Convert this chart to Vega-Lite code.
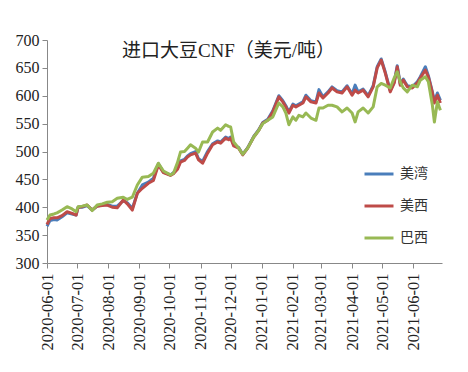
{
 "$schema": "https://vega.github.io/schema/vega-lite/v6.json",
 "width": 395, "height": 223,
 "autosize": {"type": "none"},
 "padding": {"left": 47, "top": 40, "right": 26, "bottom": 109},
 "background": "white",
 "title": {"text": "进口大豆CNF（美元/吨）", "anchor": "middle", "frame": "group", "offset": -29, "dx": -16, "font": "Liberation Serif, Noto Sans CJK SC", "fontSize": 19, "fontWeight": "normal", "color": "#222"},
 "datasets": {"t": [
 {"d":"2020-06-01","s":"美湾","v":366},{"d":"2020-06-04","s":"美湾","v":376},{"d":"2020-06-08","s":"美湾","v":378},{"d":"2020-06-11","s":"美湾","v":377},{"d":"2020-06-16","s":"美湾","v":383},{"d":"2020-06-21","s":"美湾","v":390},{"d":"2020-06-26","s":"美湾","v":388},{"d":"2020-06-30","s":"美湾","v":386},{"d":"2020-07-02","s":"美湾","v":400},{"d":"2020-07-06","s":"美湾","v":400},{"d":"2020-07-11","s":"美湾","v":403},{"d":"2020-07-16","s":"美湾","v":395},{"d":"2020-07-21","s":"美湾","v":402},{"d":"2020-07-26","s":"美湾","v":404},{"d":"2020-07-31","s":"美湾","v":405},{"d":"2020-08-05","s":"美湾","v":402},{"d":"2020-08-10","s":"美湾","v":402},{"d":"2020-08-16","s":"美湾","v":412},{"d":"2020-08-20","s":"美湾","v":408},{"d":"2020-08-25","s":"美湾","v":398},{"d":"2020-08-30","s":"美湾","v":425},{"d":"2020-09-04","s":"美湾","v":440},{"d":"2020-09-10","s":"美湾","v":445},{"d":"2020-09-15","s":"美湾","v":452},{"d":"2020-09-20","s":"美湾","v":478},{"d":"2020-09-25","s":"美湾","v":463},{"d":"2020-10-02","s":"美湾","v":458},{"d":"2020-10-05","s":"美湾","v":462},{"d":"2020-10-09","s":"美湾","v":470},{"d":"2020-10-12","s":"美湾","v":483},{"d":"2020-10-16","s":"美湾","v":486},{"d":"2020-10-19","s":"美湾","v":492},{"d":"2020-10-22","s":"美湾","v":496},{"d":"2020-10-27","s":"美湾","v":500},{"d":"2020-10-30","s":"美湾","v":487},{"d":"2020-11-03","s":"美湾","v":482},{"d":"2020-11-08","s":"美湾","v":500},{"d":"2020-11-13","s":"美湾","v":514},{"d":"2020-11-18","s":"美湾","v":519},{"d":"2020-11-21","s":"美湾","v":517},{"d":"2020-11-26","s":"美湾","v":526},{"d":"2020-11-29","s":"美湾","v":523},{"d":"2020-12-01","s":"美湾","v":526},{"d":"2020-12-04","s":"美湾","v":512},{"d":"2020-12-09","s":"美湾","v":507},{"d":"2020-12-13","s":"美湾","v":495},{"d":"2020-12-18","s":"美湾","v":507},{"d":"2020-12-24","s":"美湾","v":527},{"d":"2020-12-29","s":"美湾","v":539},{"d":"2021-01-02","s":"美湾","v":552},{"d":"2021-01-07","s":"美湾","v":558},{"d":"2021-01-12","s":"美湾","v":573},{"d":"2021-01-18","s":"美湾","v":600},{"d":"2021-01-22","s":"美湾","v":591},{"d":"2021-01-25","s":"美湾","v":582},{"d":"2021-01-28","s":"美湾","v":571},{"d":"2021-02-01","s":"美湾","v":585},{"d":"2021-02-04","s":"美湾","v":582},{"d":"2021-02-07","s":"美湾","v":585},{"d":"2021-02-11","s":"美湾","v":589},{"d":"2021-02-14","s":"美湾","v":601},{"d":"2021-02-19","s":"美湾","v":591},{"d":"2021-02-24","s":"美湾","v":589},{"d":"2021-02-27","s":"美湾","v":611},{"d":"2021-03-03","s":"美湾","v":598},{"d":"2021-03-08","s":"美湾","v":607},{"d":"2021-03-12","s":"美湾","v":616},{"d":"2021-03-17","s":"美湾","v":609},{"d":"2021-03-22","s":"美湾","v":607},{"d":"2021-03-27","s":"美湾","v":618},{"d":"2021-04-01","s":"美湾","v":603},{"d":"2021-04-04","s":"美湾","v":619},{"d":"2021-04-07","s":"美湾","v":607},{"d":"2021-04-12","s":"美湾","v":612},{"d":"2021-04-17","s":"美湾","v":600},{"d":"2021-04-22","s":"美湾","v":618},{"d":"2021-04-26","s":"美湾","v":652},{"d":"2021-04-30","s":"美湾","v":666},{"d":"2021-05-04","s":"美湾","v":643},{"d":"2021-05-09","s":"美湾","v":609},{"d":"2021-05-13","s":"美湾","v":625},{"d":"2021-05-16","s":"美湾","v":654},{"d":"2021-05-19","s":"美湾","v":621},{"d":"2021-05-22","s":"美湾","v":630},{"d":"2021-05-26","s":"美湾","v":618},{"d":"2021-05-31","s":"美湾","v":616},{"d":"2021-06-05","s":"美湾","v":625},{"d":"2021-06-08","s":"美湾","v":634},{"d":"2021-06-13","s":"美湾","v":652},{"d":"2021-06-16","s":"美湾","v":636},{"d":"2021-06-20","s":"美湾","v":607},{"d":"2021-06-22","s":"美湾","v":590},{"d":"2021-06-25","s":"美湾","v":605},{"d":"2021-06-28","s":"美湾","v":592},
 {"d":"2020-06-01","s":"美西","v":369},{"d":"2020-06-04","s":"美西","v":380},{"d":"2020-06-08","s":"美西","v":381},{"d":"2020-06-11","s":"美西","v":381},{"d":"2020-06-16","s":"美西","v":385},{"d":"2020-06-21","s":"美西","v":392},{"d":"2020-06-26","s":"美西","v":389},{"d":"2020-06-30","s":"美西","v":386},{"d":"2020-07-02","s":"美西","v":400},{"d":"2020-07-06","s":"美西","v":401},{"d":"2020-07-11","s":"美西","v":404},{"d":"2020-07-16","s":"美西","v":395},{"d":"2020-07-21","s":"美西","v":402},{"d":"2020-07-26","s":"美西","v":403},{"d":"2020-07-31","s":"美西","v":404},{"d":"2020-08-05","s":"美西","v":400},{"d":"2020-08-10","s":"美西","v":399},{"d":"2020-08-16","s":"美西","v":413},{"d":"2020-08-20","s":"美西","v":406},{"d":"2020-08-25","s":"美西","v":395},{"d":"2020-08-30","s":"美西","v":425},{"d":"2020-09-04","s":"美西","v":434},{"d":"2020-09-10","s":"美西","v":443},{"d":"2020-09-15","s":"美西","v":448},{"d":"2020-09-20","s":"美西","v":476},{"d":"2020-09-25","s":"美西","v":462},{"d":"2020-10-02","s":"美西","v":457},{"d":"2020-10-05","s":"美西","v":460},{"d":"2020-10-09","s":"美西","v":468},{"d":"2020-10-12","s":"美西","v":481},{"d":"2020-10-16","s":"美西","v":484},{"d":"2020-10-19","s":"美西","v":490},{"d":"2020-10-22","s":"美西","v":494},{"d":"2020-10-27","s":"美西","v":497},{"d":"2020-10-30","s":"美西","v":485},{"d":"2020-11-03","s":"美西","v":479},{"d":"2020-11-08","s":"美西","v":497},{"d":"2020-11-13","s":"美西","v":512},{"d":"2020-11-18","s":"美西","v":517},{"d":"2020-11-21","s":"美西","v":515},{"d":"2020-11-26","s":"美西","v":524},{"d":"2020-11-29","s":"美西","v":521},{"d":"2020-12-01","s":"美西","v":524},{"d":"2020-12-04","s":"美西","v":510},{"d":"2020-12-09","s":"美西","v":506},{"d":"2020-12-13","s":"美西","v":494},{"d":"2020-12-18","s":"美西","v":506},{"d":"2020-12-24","s":"美西","v":526},{"d":"2020-12-29","s":"美西","v":538},{"d":"2021-01-02","s":"美西","v":551},{"d":"2021-01-07","s":"美西","v":556},{"d":"2021-01-12","s":"美西","v":571},{"d":"2021-01-18","s":"美西","v":598},{"d":"2021-01-22","s":"美西","v":589},{"d":"2021-01-25","s":"美西","v":580},{"d":"2021-01-28","s":"美西","v":569},{"d":"2021-02-01","s":"美西","v":583},{"d":"2021-02-04","s":"美西","v":580},{"d":"2021-02-07","s":"美西","v":583},{"d":"2021-02-11","s":"美西","v":587},{"d":"2021-02-14","s":"美西","v":598},{"d":"2021-02-19","s":"美西","v":589},{"d":"2021-02-24","s":"美西","v":587},{"d":"2021-02-27","s":"美西","v":605},{"d":"2021-03-03","s":"美西","v":596},{"d":"2021-03-08","s":"美西","v":605},{"d":"2021-03-12","s":"美西","v":614},{"d":"2021-03-17","s":"美西","v":607},{"d":"2021-03-22","s":"美西","v":605},{"d":"2021-03-27","s":"美西","v":616},{"d":"2021-04-01","s":"美西","v":601},{"d":"2021-04-04","s":"美西","v":610},{"d":"2021-04-07","s":"美西","v":605},{"d":"2021-04-12","s":"美西","v":610},{"d":"2021-04-17","s":"美西","v":598},{"d":"2021-04-22","s":"美西","v":616},{"d":"2021-04-26","s":"美西","v":650},{"d":"2021-04-30","s":"美西","v":664},{"d":"2021-05-04","s":"美西","v":641},{"d":"2021-05-09","s":"美西","v":607},{"d":"2021-05-13","s":"美西","v":623},{"d":"2021-05-16","s":"美西","v":652},{"d":"2021-05-19","s":"美西","v":619},{"d":"2021-05-22","s":"美西","v":628},{"d":"2021-05-26","s":"美西","v":616},{"d":"2021-05-31","s":"美西","v":614},{"d":"2021-06-05","s":"美西","v":623},{"d":"2021-06-08","s":"美西","v":632},{"d":"2021-06-13","s":"美西","v":646},{"d":"2021-06-16","s":"美西","v":634},{"d":"2021-06-20","s":"美西","v":605},{"d":"2021-06-22","s":"美西","v":587},{"d":"2021-06-25","s":"美西","v":601},{"d":"2021-06-28","s":"美西","v":587},
 {"d":"2020-06-01","s":"巴西","v":377},{"d":"2020-06-04","s":"巴西","v":386},{"d":"2020-06-08","s":"巴西","v":388},{"d":"2020-06-11","s":"巴西","v":390},{"d":"2020-06-16","s":"巴西","v":395},{"d":"2020-06-21","s":"巴西","v":401},{"d":"2020-06-26","s":"巴西","v":397},{"d":"2020-06-30","s":"巴西","v":392},{"d":"2020-07-02","s":"巴西","v":401},{"d":"2020-07-06","s":"巴西","v":402},{"d":"2020-07-11","s":"巴西","v":404},{"d":"2020-07-16","s":"巴西","v":394},{"d":"2020-07-21","s":"巴西","v":404},{"d":"2020-07-26","s":"巴西","v":406},{"d":"2020-07-31","s":"巴西","v":409},{"d":"2020-08-05","s":"巴西","v":410},{"d":"2020-08-10","s":"巴西","v":416},{"d":"2020-08-16","s":"巴西","v":418},{"d":"2020-08-20","s":"巴西","v":414},{"d":"2020-08-25","s":"巴西","v":418},{"d":"2020-08-30","s":"巴西","v":440},{"d":"2020-09-04","s":"巴西","v":454},{"d":"2020-09-10","s":"巴西","v":455},{"d":"2020-09-15","s":"巴西","v":461},{"d":"2020-09-20","s":"巴西","v":479},{"d":"2020-09-25","s":"巴西","v":465},{"d":"2020-10-02","s":"巴西","v":458},{"d":"2020-10-05","s":"巴西","v":461},{"d":"2020-10-09","s":"巴西","v":480},{"d":"2020-10-12","s":"巴西","v":499},{"d":"2020-10-16","s":"巴西","v":500},{"d":"2020-10-19","s":"巴西","v":506},{"d":"2020-10-22","s":"巴西","v":512},{"d":"2020-10-27","s":"巴西","v":506},{"d":"2020-10-30","s":"巴西","v":499},{"d":"2020-11-03","s":"巴西","v":517},{"d":"2020-11-08","s":"巴西","v":517},{"d":"2020-11-13","s":"巴西","v":535},{"d":"2020-11-18","s":"巴西","v":542},{"d":"2020-11-21","s":"巴西","v":538},{"d":"2020-11-26","s":"巴西","v":548},{"d":"2020-11-29","s":"巴西","v":545},{"d":"2020-12-01","s":"巴西","v":544},{"d":"2020-12-04","s":"巴西","v":517},{"d":"2020-12-09","s":"巴西","v":506},{"d":"2020-12-13","s":"巴西","v":495},{"d":"2020-12-18","s":"巴西","v":506},{"d":"2020-12-24","s":"巴西","v":526},{"d":"2020-12-29","s":"巴西","v":538},{"d":"2021-01-02","s":"巴西","v":550},{"d":"2021-01-07","s":"巴西","v":556},{"d":"2021-01-12","s":"巴西","v":562},{"d":"2021-01-18","s":"巴西","v":587},{"d":"2021-01-22","s":"巴西","v":580},{"d":"2021-01-25","s":"巴西","v":569},{"d":"2021-01-28","s":"巴西","v":548},{"d":"2021-02-01","s":"巴西","v":562},{"d":"2021-02-04","s":"巴西","v":556},{"d":"2021-02-07","s":"巴西","v":565},{"d":"2021-02-11","s":"巴西","v":562},{"d":"2021-02-14","s":"巴西","v":569},{"d":"2021-02-19","s":"巴西","v":560},{"d":"2021-02-24","s":"巴西","v":556},{"d":"2021-02-27","s":"巴西","v":578},{"d":"2021-03-03","s":"巴西","v":578},{"d":"2021-03-08","s":"巴西","v":583},{"d":"2021-03-12","s":"巴西","v":583},{"d":"2021-03-17","s":"巴西","v":580},{"d":"2021-03-22","s":"巴西","v":571},{"d":"2021-03-27","s":"巴西","v":578},{"d":"2021-04-01","s":"巴西","v":569},{"d":"2021-04-04","s":"巴西","v":553},{"d":"2021-04-07","s":"巴西","v":571},{"d":"2021-04-12","s":"巴西","v":578},{"d":"2021-04-17","s":"巴西","v":569},{"d":"2021-04-22","s":"巴西","v":580},{"d":"2021-04-26","s":"巴西","v":616},{"d":"2021-04-30","s":"巴西","v":622},{"d":"2021-05-04","s":"巴西","v":619},{"d":"2021-05-09","s":"巴西","v":614},{"d":"2021-05-13","s":"巴西","v":632},{"d":"2021-05-16","s":"巴西","v":643},{"d":"2021-05-19","s":"巴西","v":625},{"d":"2021-05-22","s":"巴西","v":614},{"d":"2021-05-26","s":"巴西","v":607},{"d":"2021-05-31","s":"巴西","v":619},{"d":"2021-06-05","s":"巴西","v":616},{"d":"2021-06-08","s":"巴西","v":628},{"d":"2021-06-13","s":"巴西","v":634},{"d":"2021-06-16","s":"巴西","v":625},{"d":"2021-06-20","s":"巴西","v":583},{"d":"2021-06-22","s":"巴西","v":553},{"d":"2021-06-25","s":"巴西","v":589},{"d":"2021-06-28","s":"巴西","v":574}
 ]},
 "data": {"name": "t"},
 "mark": {"type": "line", "strokeWidth": 3, "strokeJoin": "round"},
 "encoding": {
  "x": {"field": "d", "type": "temporal",
   "scale": {"type": "utc", "domain": [{"year": 2020, "month": 6, "date": 1, "utc": true}, {"year": 2021, "month": 6, "date": 29, "hours": 14, "utc": true}]},
   "axis": {"title": null, "grid": false, "labelExpr": "utcFormat(datum.value, '%Y-%m-%d')", "labelAngle": -90, "labelFont": "Liberation Serif", "labelFontSize": 16.5, "labelColor": "#222", "labelPadding": 5, "tickSize": 5, "tickColor": "#888", "domainColor": "#888",
    "values": [{"year":2020,"month":6,"date":1,"utc":true},{"year":2020,"month":7,"date":1,"utc":true},{"year":2020,"month":8,"date":1,"utc":true},{"year":2020,"month":9,"date":1,"utc":true},{"year":2020,"month":10,"date":1,"utc":true},{"year":2020,"month":11,"date":1,"utc":true},{"year":2020,"month":12,"date":1,"utc":true},{"year":2021,"month":1,"date":1,"utc":true},{"year":2021,"month":2,"date":1,"utc":true},{"year":2021,"month":3,"date":1,"utc":true},{"year":2021,"month":4,"date":1,"utc":true},{"year":2021,"month":5,"date":1,"utc":true},{"year":2021,"month":6,"date":1,"utc":true}]}},
  "y": {"field": "v", "type": "quantitative",
   "scale": {"domain": [300, 700], "nice": false, "zero": false},
   "axis": {"title": null, "grid": false, "values": [300, 350, 400, 450, 500, 550, 600, 650, 700], "labelFont": "Liberation Serif", "labelFontSize": 16, "labelColor": "#222", "labelPadding": 3, "tickSize": 5, "tickColor": "#888", "domainColor": "#888"}},
  "color": {"field": "s", "type": "nominal",
   "scale": {"domain": ["美湾", "美西", "巴西"], "range": ["#4a7ebb", "#be4b48", "#98b954"]},
   "legend": {"title": null, "orient": "none", "legendX": 316, "legendY": 118, "padding": 0, "symbolType": "stroke", "symbolSize": 841, "symbolStrokeWidth": 3, "labelFont": "Noto Sans CJK SC", "labelFontSize": 14, "labelColor": "#333", "labelOffset": 5, "rowPadding": 9}}
 },
 "config": {"view": {"stroke": null}}
}
